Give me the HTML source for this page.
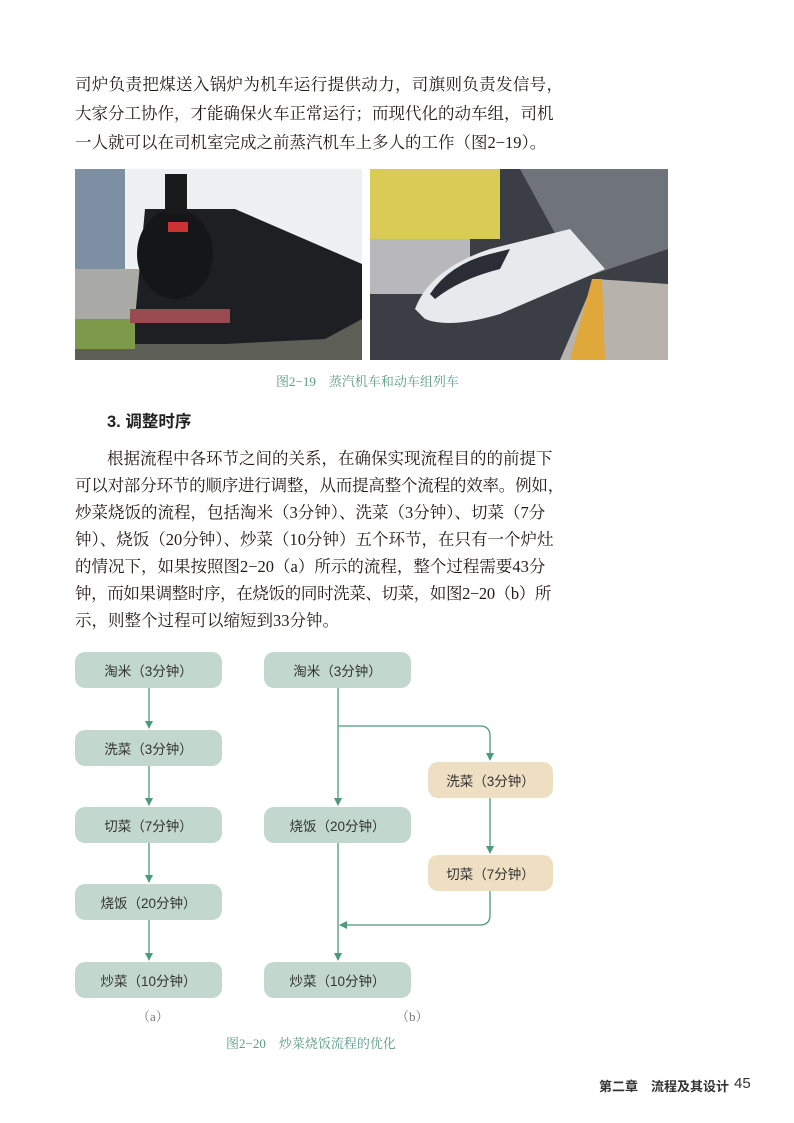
<!DOCTYPE html>
<html><head><meta charset="utf-8"><style>
body{margin:0;background:#fff}
.pg{position:relative;width:794px;height:1123px;overflow:hidden;background:#fff}
.t{position:absolute;left:75px;font-family:"Liberation Serif","Noto Serif CJK SC",serif;font-size:16.5px;color:#231815;white-space:nowrap}
.s{font-family:"Liberation Sans","Noto Sans CJK SC",sans-serif}
.box{position:absolute;height:36px;border-radius:10px;background:#c2d8ce;font-family:"Liberation Sans","Noto Sans CJK SC",sans-serif;font-size:13.5px;color:#333;display:flex;align-items:center;justify-content:center}
.or{background:#efdfc2}
.cap{position:absolute;font-family:"Liberation Serif","Noto Serif CJK SC",serif;font-size:13px;color:#5a9a86}
</style></head><body><div class="pg">
<div class="t" style="top:71px;letter-spacing:0.34px">司炉负责把煤送入锅炉为机车运行提供动力，司旗则负责发信号，</div>
<div class="t" style="top:100px">大家分工协作，才能确保火车正常运行；而现代化的动车组，司机</div>
<div class="t" style="top:129px">一人就可以在司机室完成之前蒸汽机车上多人的工作（图2−19）。</div>

<svg style="position:absolute;left:75px;top:169px" width="287" height="191">
<rect width="287" height="191" fill="#eef1f2"/>
<rect x="0" y="0" width="50" height="100" fill="#7d8fa3"/>
<rect x="0" y="100" width="80" height="55" fill="#a9a9a5"/>
<rect x="0" y="150" width="287" height="41" fill="#5d5f57"/>
<rect x="0" y="150" width="60" height="30" fill="#7d9a4a"/>
<path d="M60 150 L70 40 L160 40 L287 95 L287 150 L250 170 L150 175 L60 175Z" fill="#1e1f22"/>
<ellipse cx="100" cy="85" rx="38" ry="45" fill="#151617"/>
<rect x="93" y="53" width="20" height="10" fill="#c33"/>
<rect x="55" y="140" width="100" height="14" fill="#9a4b52"/>
<rect x="90" y="5" width="22" height="40" fill="#1a1a1a"/>
</svg>
<svg style="position:absolute;left:370px;top:169px" width="298" height="191">
<rect width="298" height="191" fill="#3c3e45"/>
<rect x="0" y="0" width="130" height="70" fill="#d9cb55"/>
<rect x="0" y="70" width="100" height="55" fill="#b8b8bc"/>
<path d="M150 0 L298 0 L298 80 L210 110Z" fill="#6f737a"/>
<path d="M190 191 L225 110 L298 115 L298 191Z" fill="#b7b3ac"/>
<path d="M200 191 L222 110 L232 110 L235 191Z" fill="#e0a83a"/>
<path d="M45 140 Q60 100 120 80 L200 60 L235 100 L130 145 Q80 160 55 150Z" fill="#e8e9ec"/>
<path d="M60 125 Q80 95 120 85 L140 80 L130 100 Q90 110 65 130Z" fill="#2a2d35"/>
</svg>
<div class="cap" style="left:276px;top:371px">图2−19　蒸汽机车和动车组列车</div>

<div class="s" style="position:absolute;left:107px;top:408px;font-size:16.5px;font-weight:bold;color:#222">3. 调整时序</div>
<div class="t" style="top:445px;left:107px">根据流程中各环节之间的关系，在确保实现流程目的的前提下</div>
<div class="t" style="top:472px;letter-spacing:-0.2px">可以对部分环节的顺序进行调整，从而提高整个流程的效率。例如，</div>
<div class="t" style="top:499px">炒菜烧饭的流程，包括淘米（3分钟）、洗菜（3分钟）、切菜（7分</div>
<div class="t" style="top:526px">钟）、烧饭（20分钟）、炒菜（10分钟）五个环节，在只有一个炉灶</div>
<div class="t" style="top:553px">的情况下，如果按照图2−20（a）所示的流程，整个过程需要43分</div>
<div class="t" style="top:580px;letter-spacing:-0.37px">钟，而如果调整时序，在烧饭的同时洗菜、切菜，如图2−20（b）所</div>
<div class="t" style="top:607px">示，则整个过程可以缩短到33分钟。</div>

<svg style="position:absolute;left:0;top:0" width="794" height="1123">
<defs><marker id="a" markerWidth="8" markerHeight="8" refX="7" refY="4" orient="auto" markerUnits="userSpaceOnUse"><path d="M0 0 L8 4 L0 8Z" fill="#4c9a7c"/></marker></defs>
<g stroke="#4c9a7c" stroke-width="1.3" fill="none" marker-end="url(#a)">
<line x1="149" y1="688" x2="149" y2="728"/>
<line x1="149" y1="766" x2="149" y2="805"/>
<line x1="149" y1="843" x2="149" y2="882"/>
<line x1="149" y1="920" x2="149" y2="960"/>
<line x1="338" y1="688" x2="338" y2="805"/>
<line x1="338" y1="843" x2="338" y2="960"/>
<path d="M338 726 L480 726 Q490 726 490 736 L490 760"/>
<line x1="490" y1="798" x2="490" y2="853"/>
<path d="M490 891 L490 915 Q490 925 480 925 L340 925"/>
</g></svg>
<div class="box" style="left:75px;top:652px;width:147px">淘米（3分钟）</div>
<div class="box" style="left:75px;top:730px;width:147px">洗菜（3分钟）</div>
<div class="box" style="left:75px;top:807px;width:147px">切菜（7分钟）</div>
<div class="box" style="left:75px;top:884px;width:147px">烧饭（20分钟）</div>
<div class="box" style="left:75px;top:962px;width:147px">炒菜（10分钟）</div>
<div class="box" style="left:264px;top:652px;width:147px">淘米（3分钟）</div>
<div class="box" style="left:264px;top:807px;width:147px">烧饭（20分钟）</div>
<div class="box" style="left:264px;top:962px;width:147px">炒菜（10分钟）</div>
<div class="box or" style="left:428px;top:762px;width:125px">洗菜（3分钟）</div>
<div class="box or" style="left:428px;top:855px;width:125px">切菜（7分钟）</div>
<div class="cap" style="left:137px;top:1006px;color:#777">（a）</div>
<div class="cap" style="left:396px;top:1006px;color:#777">（b）</div>
<div class="cap" style="left:226px;top:1033px">图2−20　炒菜烧饭流程的优化</div>
<div class="s" style="position:absolute;left:599px;top:1076px;font-size:13px;font-weight:bold;color:#333">第二章　流程及其设计</div>
<div class="s" style="position:absolute;left:734px;top:1075px;font-size:15px;line-height:17px;color:#333">45</div>
</div></body></html>
